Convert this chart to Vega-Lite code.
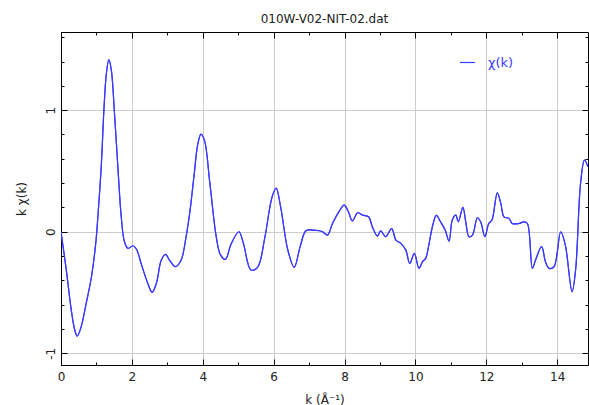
{
  "$schema": "https://vega.github.io/schema/vega-lite/v6.json",
  "autosize": "none",
  "width": 527,
  "height": 333,
  "padding": {"left": 61, "top": 32, "right": 1, "bottom": 40},
  "background": "white",
  "title": {"text": "010W-V02-NIT-02.dat", "fontSize": 12, "fontWeight": "normal", "font": "DejaVu Sans", "color": "#222", "offset": 6},
  "config": {
    "view": {"stroke": null},
    "font": "DejaVu Sans"
  },
  "data": {"values": [
    {"k": 0, "y": 0},
    {"k": 0.15, "y": -0.315},
    {"k": 0.29, "y": -0.644},
    {"k": 0.39, "y": -0.81},
    {"k": 0.46, "y": -0.858},
    {"k": 0.57, "y": -0.78},
    {"k": 0.71, "y": -0.59},
    {"k": 0.86, "y": -0.37},
    {"k": 0.98, "y": -0.096},
    {"k": 1.04, "y": 0.123},
    {"k": 1.14, "y": 0.56},
    {"k": 1.21, "y": 1.0},
    {"k": 1.28, "y": 1.3},
    {"k": 1.35, "y": 1.416},
    {"k": 1.42, "y": 1.33},
    {"k": 1.51, "y": 0.97},
    {"k": 1.61, "y": 0.507},
    {"k": 1.7, "y": 0.123},
    {"k": 1.79, "y": -0.082},
    {"k": 1.89, "y": -0.137},
    {"k": 2.03, "y": -0.115},
    {"k": 2.14, "y": -0.15},
    {"k": 2.26, "y": -0.26},
    {"k": 2.45, "y": -0.425},
    {"k": 2.57, "y": -0.499},
    {"k": 2.69, "y": -0.425},
    {"k": 2.83, "y": -0.233},
    {"k": 2.95, "y": -0.186},
    {"k": 3.06, "y": -0.233},
    {"k": 3.23, "y": -0.288},
    {"k": 3.39, "y": -0.233},
    {"k": 3.53, "y": -0.04},
    {"k": 3.63, "y": 0.15},
    {"k": 3.75, "y": 0.45},
    {"k": 3.86, "y": 0.72},
    {"k": 3.95, "y": 0.803},
    {"k": 4.05, "y": 0.75},
    {"k": 4.2, "y": 0.4},
    {"k": 4.38, "y": -0.04},
    {"k": 4.5, "y": -0.19},
    {"k": 4.64, "y": -0.227},
    {"k": 4.8, "y": -0.1},
    {"k": 5.02, "y": 0.0},
    {"k": 5.15, "y": -0.1},
    {"k": 5.36, "y": -0.315},
    {"k": 5.55, "y": -0.29},
    {"k": 5.75, "y": -0.05},
    {"k": 5.95, "y": 0.28},
    {"k": 6.07, "y": 0.359},
    {"k": 6.2, "y": 0.2},
    {"k": 6.4, "y": -0.15},
    {"k": 6.58, "y": -0.293},
    {"k": 6.75, "y": -0.12},
    {"k": 6.91, "y": 0.008},
    {"k": 7.1, "y": 0.014},
    {"k": 7.29, "y": 0.008},
    {"k": 7.38, "y": 0.0},
    {"k": 7.52, "y": -0.027},
    {"k": 7.66, "y": 0.068},
    {"k": 7.84, "y": 0.164},
    {"k": 7.99, "y": 0.219},
    {"k": 8.11, "y": 0.164},
    {"k": 8.22, "y": 0.09},
    {"k": 8.37, "y": 0.156},
    {"k": 8.51, "y": 0.137},
    {"k": 8.68, "y": 0.123},
    {"k": 8.79, "y": 0.036},
    {"k": 8.93, "y": -0.036},
    {"k": 9.02, "y": 0.008},
    {"k": 9.16, "y": -0.041},
    {"k": 9.33, "y": 0.025},
    {"k": 9.45, "y": -0.068},
    {"k": 9.59, "y": -0.096},
    {"k": 9.73, "y": -0.151},
    {"k": 9.84, "y": -0.26},
    {"k": 9.97, "y": -0.178},
    {"k": 10.1, "y": -0.301},
    {"k": 10.2, "y": -0.247},
    {"k": 10.29, "y": -0.219},
    {"k": 10.36, "y": -0.137},
    {"k": 10.48, "y": 0.041},
    {"k": 10.59, "y": 0.134},
    {"k": 10.71, "y": 0.082},
    {"k": 10.84, "y": 0.014},
    {"k": 10.95, "y": -0.077},
    {"k": 11.04, "y": 0.096},
    {"k": 11.14, "y": 0.137},
    {"k": 11.21, "y": 0.082},
    {"k": 11.34, "y": 0.2},
    {"k": 11.42, "y": 0.082},
    {"k": 11.51, "y": -0.041},
    {"k": 11.61, "y": -0.027},
    {"k": 11.75, "y": 0.115},
    {"k": 11.84, "y": 0.082},
    {"k": 11.96, "y": -0.041},
    {"k": 12.07, "y": 0.068},
    {"k": 12.16, "y": 0.096},
    {"k": 12.31, "y": 0.32},
    {"k": 12.41, "y": 0.233},
    {"k": 12.5, "y": 0.123},
    {"k": 12.64, "y": 0.11},
    {"k": 12.73, "y": 0.068},
    {"k": 12.92, "y": 0.068},
    {"k": 13.06, "y": 0.082},
    {"k": 13.16, "y": 0.068},
    {"k": 13.3, "y": -0.301},
    {"k": 13.39, "y": -0.233},
    {"k": 13.56, "y": -0.123},
    {"k": 13.67, "y": -0.247},
    {"k": 13.77, "y": -0.301},
    {"k": 13.91, "y": -0.288},
    {"k": 14.1, "y": 0.0},
    {"k": 14.23, "y": -0.11},
    {"k": 14.42, "y": -0.493},
    {"k": 14.52, "y": -0.315},
    {"k": 14.66, "y": 0.397},
    {"k": 14.77, "y": 0.589},
    {"k": 14.87, "y": 0.534}
  ]},
  "layer": [
    {
      "mark": {"type": "line", "strokeWidth": 1.2, "interpolate": "catmull-rom", "clip": true},
      "encoding": {
        "x": {"field": "k", "type": "quantitative", "scale": {"domain": [0, 14.87], "nice": false, "zero": false},
          "axis": {"orient": "bottom", "title": "k (Å⁻¹)", "values": [0,1,2,3,4,5,6,7,8,9,10,11,12,13,14],
            "labelExpr": "datum.value % 2 === 0 ? datum.label : ''",
            "grid": true, "gridColor": "#cccccc",
            "gridOpacity": {"condition": {"test": "datum.value % 2 === 0 && datum.value > 0", "value": 1}, "value": 0},
            "tickSize": {"condition": {"test": "datum.value % 2 === 0", "value": -6}, "value": -3},
            "tickColor": "#000", "domainColor": "#000", "labelColor": "#222", "labelFontSize": 12, "labelPadding": 12,
            "titleFontSize": 12, "titleFontWeight": "normal", "titleColor": "#222", "titlePadding": 12, "labelFlush": false}},
        "y": {"field": "y", "type": "quantitative", "scale": {"domain": [-1.096, 1.643], "nice": false, "zero": false},
          "axis": {"orient": "left", "title": "k χ(k)", "values": [-1,-0.8,-0.6,-0.4,-0.2,0,0.2,0.4,0.6,0.8,1,1.2,1.4,1.6],
            "labelExpr": "abs(datum.value - round(datum.value)) < 0.01 ? (datum.value < -0.5 ? '-' + round(abs(datum.value)) : '' + round(datum.value)) : ''",
            "grid": true, "gridColor": "#cccccc",
            "gridOpacity": {"condition": {"test": "abs(datum.value - round(datum.value)) < 0.01", "value": 1}, "value": 0},
            "tickSize": {"condition": {"test": "abs(datum.value - round(datum.value)) < 0.01", "value": -6}, "value": -3},
            "tickColor": "#000", "domainColor": "#000", "labelColor": "#222", "labelFontSize": 12, "labelAngle": 270, "labelPadding": 10,
            "titleFontSize": 12, "titleFontWeight": "normal", "titleColor": "#222", "titlePadding": 16, "labelFlush": false}},
        "color": {"datum": "χ(k)", "type": "nominal", "scale": {"range": ["#3a3aff"]},
          "legend": {"orient": "none", "legendX": 398, "legendY": 22, "title": null, "symbolType": "stroke", "symbolStrokeWidth": 1.2, "symbolSize": 220, "labelColor": "#3a3aff", "labelFontSize": 13, "labelOffset": 12}}
      }
    },
    {
      "mark": {"type": "line", "strokeWidth": 1.2, "interpolate": "catmull-rom", "clip": true},
      "encoding": {
        "x": {"field": "k", "type": "quantitative",
          "axis": {"orient": "top", "title": null, "labels": false, "values": [0,1,2,3,4,5,6,7,8,9,10,11,12,13,14], "grid": false,
            "tickSize": {"condition": {"test": "datum.value % 2 === 0", "value": -6}, "value": -3},
            "tickColor": "#000", "domainColor": "#000"}},
        "y": {"field": "y", "type": "quantitative",
          "axis": {"orient": "right", "title": null, "labels": false, "values": [-1,-0.8,-0.6,-0.4,-0.2,0,0.2,0.4,0.6,0.8,1,1.2,1.4,1.6], "grid": false,
            "tickSize": {"condition": {"test": "abs(datum.value - round(datum.value)) < 0.01", "value": -6}, "value": -3},
            "tickColor": "#000", "domainColor": "#000"}},
        "color": {"datum": "χ(k)", "type": "nominal", "legend": null}
      }
    }
  ],
  "resolve": {"axis": {"x": "independent", "y": "independent"}}
}
